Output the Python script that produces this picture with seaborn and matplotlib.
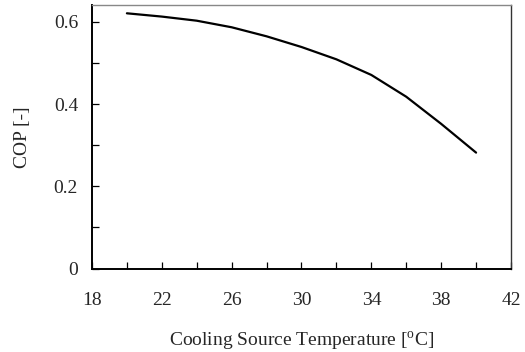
import matplotlib
matplotlib.use("Agg")
import matplotlib.pyplot as plt
from matplotlib.ticker import FixedLocator
import seaborn as sns
import pandas as pd

temperature = [20, 22, 24, 26, 28, 30, 32, 34, 36, 38, 40]
cop = [0.621, 0.613, 0.603, 0.587, 0.565, 0.539, 0.509, 0.471, 0.418, 0.352, 0.282]
x_ticks = [18, 22, 26, 30, 34, 38, 42]
x_minor = [20, 24, 28, 32, 36, 40]
y_ticks = [0, 0.2, 0.4, 0.6]
y_ticklabels = ["0", "0.2", "0.4", "0.6"]
y_minor = [0.1, 0.3, 0.5]

sns.set_style("white")
plt.rcParams['font.family'] = ['Liberation Serif', 'DejaVu Serif']
plt.rcParams['mathtext.fontset'] = 'custom'
plt.rcParams['mathtext.rm'] = 'Liberation Serif'

df = pd.DataFrame({"T": temperature, "COP": cop})

fig = plt.figure(figsize=(5.25, 3.52), dpi=100)
ax = fig.add_axes([0.1752, 0.2372, 0.7981, 0.7472])
sns.lineplot(data=df, x="T", y="COP", ax=ax, color="black", linewidth=1.6)

ax.set_xlim(18, 42)
ax.set_ylim(0, 0.64)
ax.xaxis.set_major_locator(FixedLocator(x_ticks))
ax.xaxis.set_minor_locator(FixedLocator(x_minor))
ax.set_xticklabels([str(t) for t in x_ticks])
ax.yaxis.set_major_locator(FixedLocator(y_ticks))
ax.yaxis.set_minor_locator(FixedLocator(y_minor))
ax.set_yticklabels(y_ticklabels)

ax.tick_params(axis="both", which="both", direction="in", length=5, width=0.9,
               color="black", labelsize=14, bottom=True, left=True,
               top=False, right=False)
ax.tick_params(axis="x", which="major", pad=17)
ax.tick_params(axis="y", which="major", pad=10)

for s in ["left", "bottom"]:
    ax.spines[s].set_color("black")
    ax.spines[s].set_linewidth(1.4)
ax.spines["top"].set_color("#888888")
ax.spines["top"].set_linewidth(1.0)
ax.spines["right"].set_color("#333333")
ax.spines["right"].set_linewidth(1.0)

ax.set_xlabel(r"Cooling Source Temperature [$^{\mathrm{o}}$C]", fontsize=14, labelpad=15)
ax.set_ylabel("COP [-]", fontsize=14, labelpad=16)

fig.savefig("out.png", dpi=100)
